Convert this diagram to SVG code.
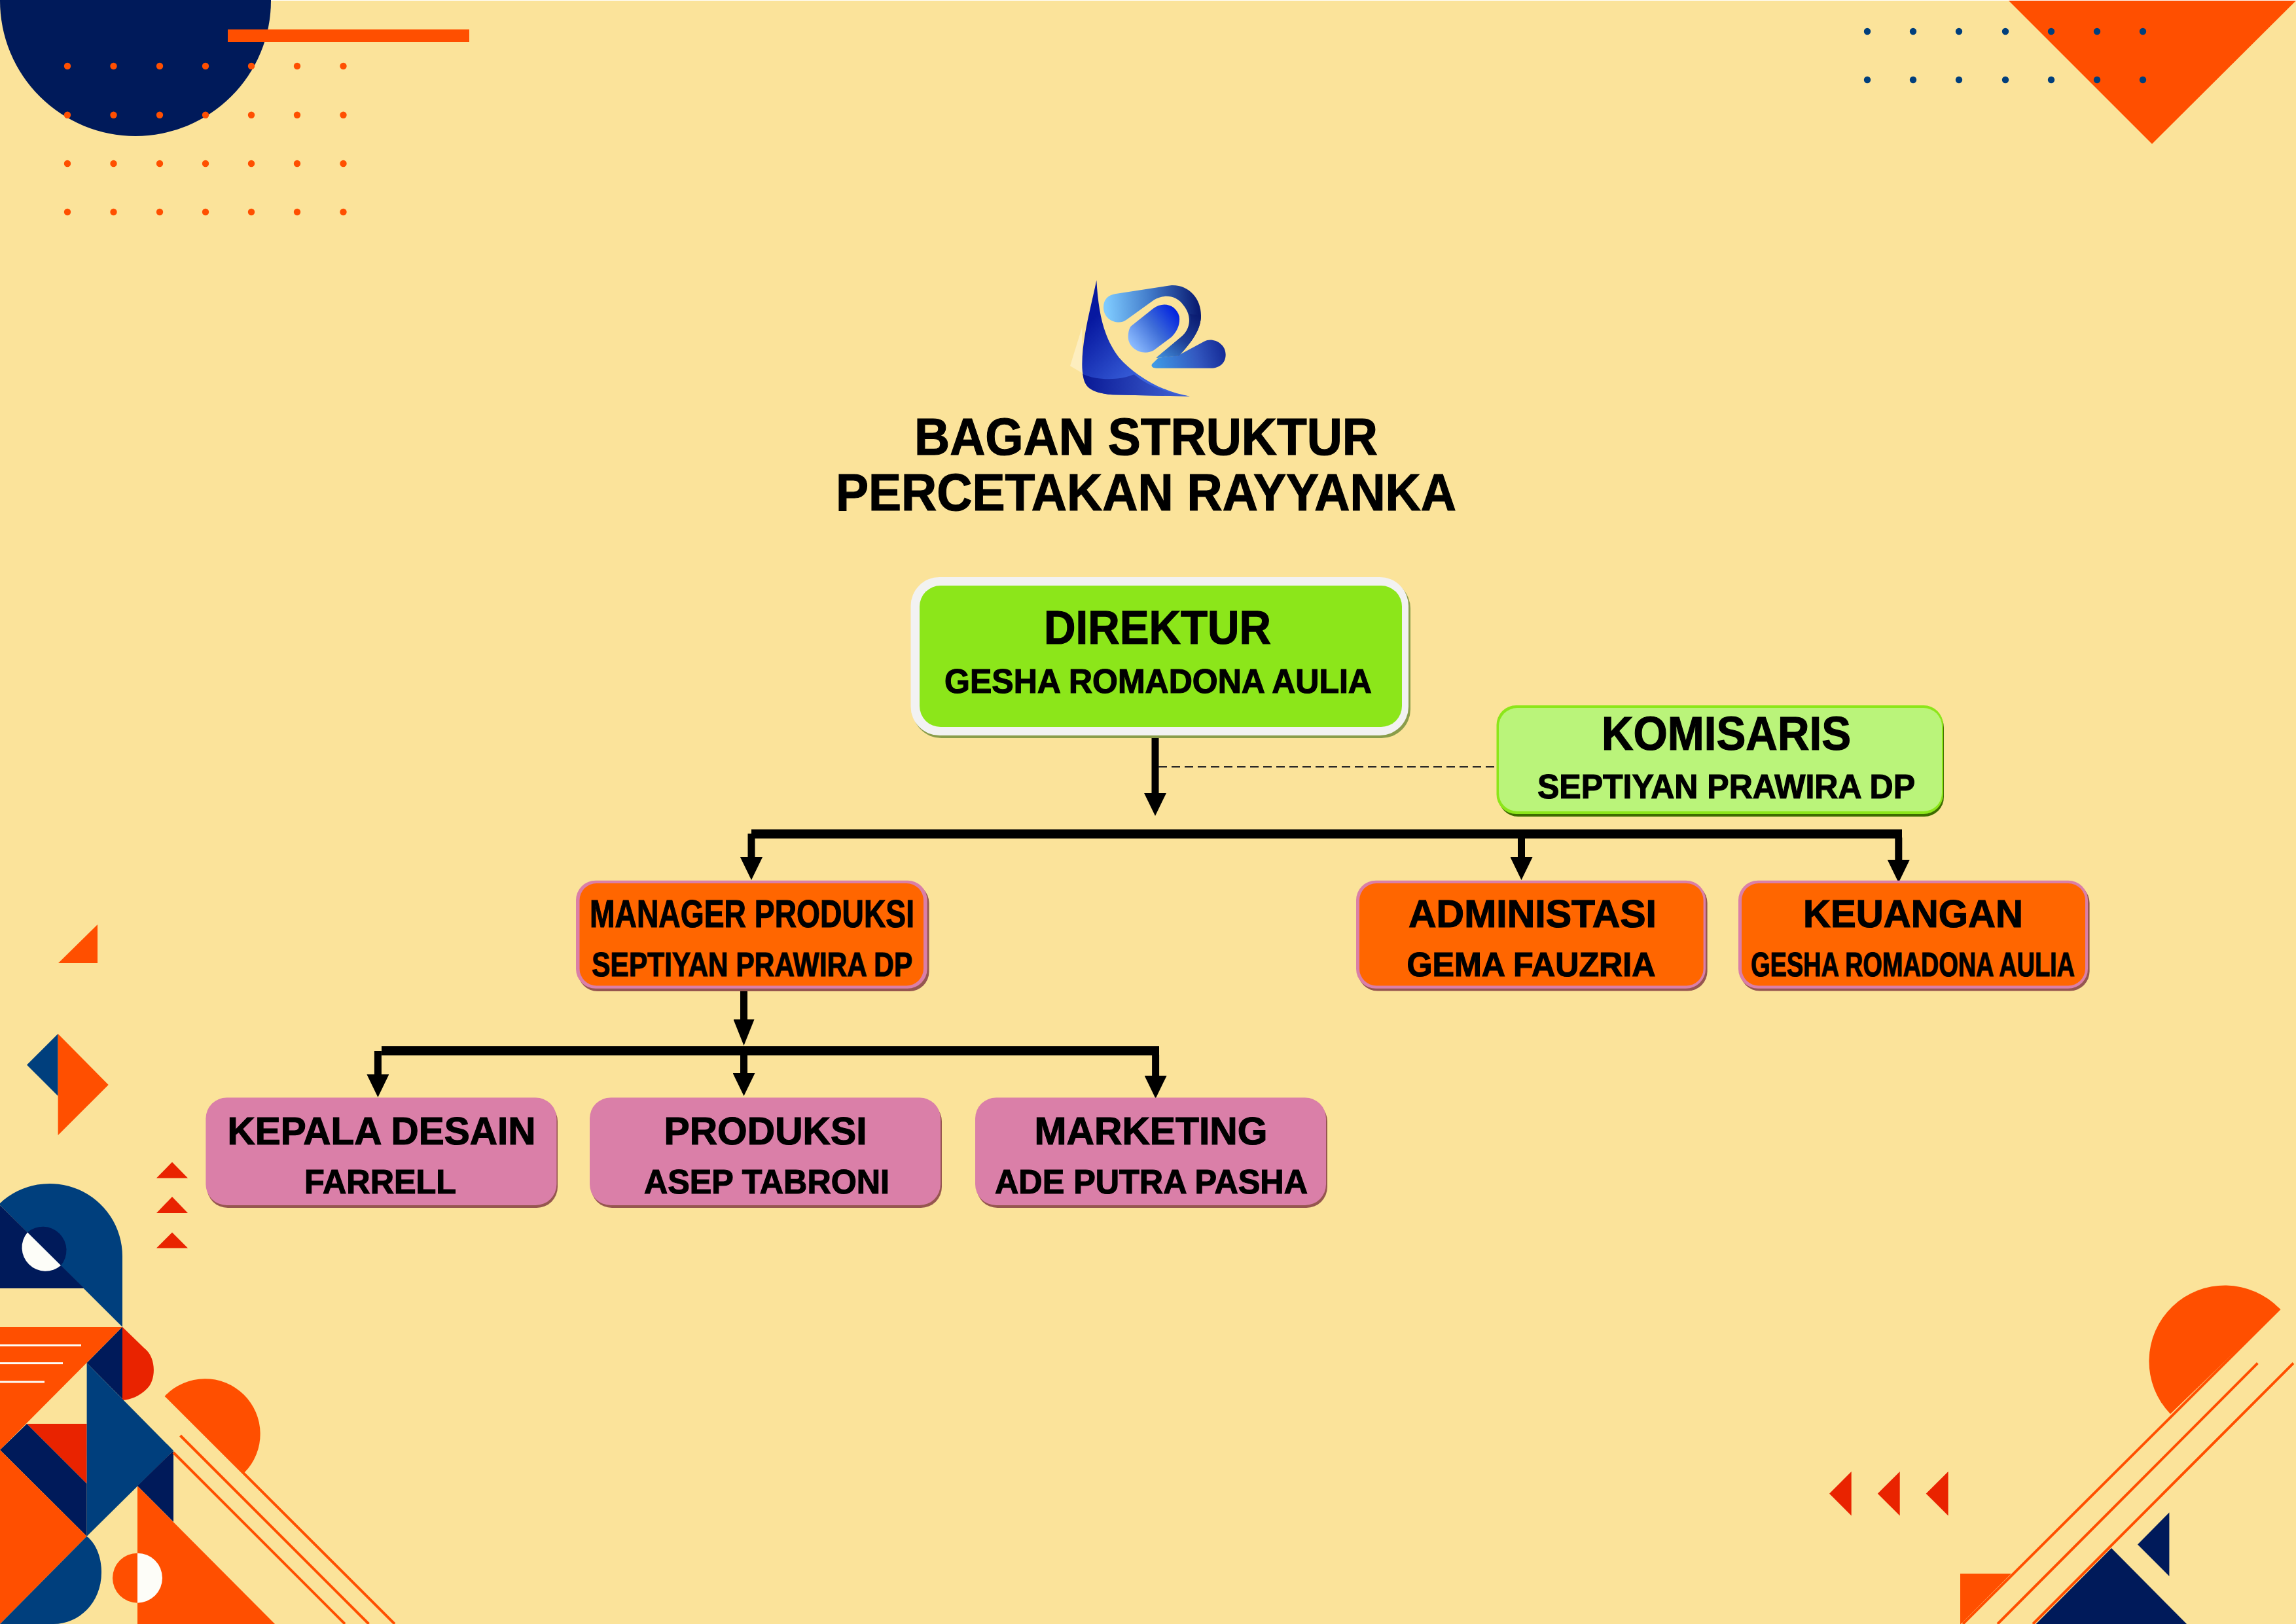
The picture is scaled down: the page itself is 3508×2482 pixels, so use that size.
<svg xmlns="http://www.w3.org/2000/svg" width="3508" height="2482" viewBox="0 0 3508 2482">
<style>
.o{fill:#ff4f00}.n{fill:#001a5a}.b{fill:#003f7d}.r{fill:#e92300}.w{fill:#fdfdf8}
.ol{stroke:#ff4f00;stroke-width:4;fill:none}
.wl{stroke:#fdfdf8;stroke-width:3;fill:none}
text{font-family:"Liberation Sans",Arial,sans-serif;font-weight:700;fill:#000;stroke:#000;stroke-width:1.2}
.t{font-size:79px}.h1{font-size:72px}.h2{font-size:60px}.s{font-size:52px}
.pk{fill:#da7fa8}.or{fill:#ff6600}.sp{fill:#96564f}
.ln{stroke:#000;stroke-width:11;fill:none}
.bar{stroke:#000;stroke-width:14;fill:none}
.dash{stroke:#222;stroke-width:2;stroke-dasharray:13 7;fill:none}
</style>
<defs>
<marker id="head" markerUnits="userSpaceOnUse" viewBox="0 0 35 34" refX="1" refY="17" markerWidth="35" markerHeight="34" orient="auto"><path d="M0,0L35,17L0,34Z" fill="#000"/></marker>
<marker id="headL" markerUnits="userSpaceOnUse" viewBox="0 0 40 32" refX="1" refY="16" markerWidth="40" markerHeight="32" orient="auto"><path d="M0,0L40,16L0,32Z" fill="#000"/></marker>
<circle id="dO" r="5.2" class="o"/>
<circle id="dB" r="5.2" class="b"/>
<linearGradient id="g1" gradientUnits="userSpaceOnUse" x1="170" y1="300" x2="420" y2="540"><stop offset="0" stop-color="#0718a0"/><stop offset="1" stop-color="#3a62dc"/></linearGradient>
<linearGradient id="g1b" gradientUnits="userSpaceOnUse" x1="170" y1="560" x2="650" y2="600"><stop offset="0" stop-color="#0a1a96"/><stop offset="1" stop-color="#4366d6"/></linearGradient>
<linearGradient id="g2" gradientUnits="userSpaceOnUse" x1="270" y1="220" x2="690" y2="190"><stop offset="0" stop-color="#7fcbff"/><stop offset=".5" stop-color="#3f78c8"/><stop offset="1" stop-color="#0a1c72"/></linearGradient>
<linearGradient id="g2b" gradientUnits="userSpaceOnUse" x1="680" y1="240" x2="520" y2="440"><stop offset="0" stop-color="#0a1c72"/><stop offset=".5" stop-color="#1f3f96"/><stop offset="1" stop-color="#3f8ad8"/></linearGradient>
<linearGradient id="g3" gradientUnits="userSpaceOnUse" x1="390" y1="390" x2="600" y2="230"><stop offset="0" stop-color="#8cbcff"/><stop offset=".5" stop-color="#3f6ed8"/><stop offset="1" stop-color="#0020e0"/></linearGradient>
<linearGradient id="g4" gradientUnits="userSpaceOnUse" x1="490" y1="480" x2="810" y2="390"><stop offset="0" stop-color="#3f9ae6"/><stop offset=".6" stop-color="#3358c0"/><stop offset="1" stop-color="#142a96"/></linearGradient>
</defs>
<rect x="0" y="1" width="3508" height="2481" fill="#fbe39a"/>

<g id="deco-top-left">
<circle cx="207" cy="1" r="207" class="n"/>
<rect x="348" y="45" width="369" height="19" class="o"/>
<use href="#dO" x="103" y="101"/><use href="#dO" x="173.5" y="101"/><use href="#dO" x="244" y="101"/><use href="#dO" x="314" y="101"/><use href="#dO" x="384" y="101"/><use href="#dO" x="454" y="101"/><use href="#dO" x="524.5" y="101"/>
<use href="#dO" x="103" y="175.7"/><use href="#dO" x="173.5" y="175.7"/><use href="#dO" x="244" y="175.7"/><use href="#dO" x="314" y="175.7"/><use href="#dO" x="384" y="175.7"/><use href="#dO" x="454" y="175.7"/><use href="#dO" x="524.5" y="175.7"/>
<use href="#dO" x="103" y="250"/><use href="#dO" x="173.5" y="250"/><use href="#dO" x="244" y="250"/><use href="#dO" x="314" y="250"/><use href="#dO" x="384" y="250"/><use href="#dO" x="454" y="250"/><use href="#dO" x="524.5" y="250"/>
<use href="#dO" x="103" y="324"/><use href="#dO" x="173.5" y="324"/><use href="#dO" x="244" y="324"/><use href="#dO" x="314" y="324"/><use href="#dO" x="384" y="324"/><use href="#dO" x="454" y="324"/><use href="#dO" x="524.5" y="324"/>
</g>

<g id="deco-top-right">
<polygon points="3069,1 3508,1 3288,220" class="o"/>
<use href="#dB" x="2853" y="48"/><use href="#dB" x="2923" y="48"/><use href="#dB" x="2993" y="48"/><use href="#dB" x="3064" y="48"/><use href="#dB" x="3134" y="48"/><use href="#dB" x="3204" y="48"/><use href="#dB" x="3274" y="48"/>
<use href="#dB" x="2853" y="122"/><use href="#dB" x="2923" y="122"/><use href="#dB" x="2993" y="122"/><use href="#dB" x="3064" y="122"/><use href="#dB" x="3134" y="122"/><use href="#dB" x="3204" y="122"/><use href="#dB" x="3274" y="122"/>
</g>

<g id="deco-bottom-left">
<polygon points="89,1472 149,1413 149,1472" class="o"/>
<polygon points="41,1627.5 88.6,1580 88.6,1675" class="b"/>
<polygon points="88.6,1580 165.7,1658 88.6,1735" class="o"/>
<polygon points="239,1800.5 263,1776 287,1800.5" class="r"/>
<polygon points="239,1854 263,1829 287,1854" class="r"/>
<polygon points="239,1907.4 263,1883.5 287,1907.4" class="r"/>
<path d="M0,1842V1839A111,111 0 0 1 187,1920V2028Z" class="b"/>
<polygon points="0,1842 128.6,1969 0,1969" class="n"/>
<path d="M42,1883.5A36,36 0 0 1 93,1934Z" class="n"/>
<path d="M42,1883.5A36,36 0 0 0 93,1934Z" class="w"/>
<polygon points="0,2028 187,2028 0,2216" class="o"/>
<path d="M0,2056H124M0,2083.5H96M0,2112H68" class="wl"/>
<polygon points="187,2028 132.6,2083 187,2138" class="n"/>
<path d="M187,2028L220,2060C240,2075 238,2110 225,2122C213,2134 200,2139 187,2140Z" class="r"/>
<polygon points="41,2176 132.6,2176 132.6,2267.5" class="r"/>
<polygon points="0,2216 41,2176 132.6,2267.5 132.6,2348" class="n"/>
<polygon points="132.6,2083 265,2217 132.6,2348" class="b"/>
<polygon points="0,2216 132.6,2348 0,2482" class="o"/>
<path d="M132.6,2348C148,2360 155,2382 155,2403C155,2450 120,2482 82,2482H0Z" class="b"/>
<polygon points="210,2271 265,2217 265,2326" class="n"/>
<polygon points="210,2271 420,2482 210,2482" class="o"/>
<path d="M210,2373.7A38,38 0 0 0 210,2449.7Z" class="o"/>
<path d="M210,2373.7A38,38 0 0 1 210,2449.7Z" class="w"/>
<path d="M253,2132.5A84,84 0 1 1 373.5,2250.6Z" class="o"/>
<path d="M253,2132.5L603,2482M275.5,2194L563.5,2482M265,2220L527,2482" class="ol"/>
</g>

<g id="deco-bottom-right">
<polygon points="2795,2282.7 2828.7,2249 2828.7,2316.4" class="r"/>
<polygon points="2868.8,2282.7 2902.7,2249 2902.7,2316.4" class="r"/>
<polygon points="2942.7,2282.7 2976.6,2249 2976.6,2316.4" class="r"/>
<path d="M3483,2000A115,115 0 1 0 3316,2161Z" class="o"/>
<polygon points="2995,2405 3073,2405 2996,2482 2995,2482" class="o"/>
<path d="M3483,2000L2999,2482M3449.4,2083.4L3052,2482M3504,2083.4L3106,2482" class="ol"/>
<polygon points="3266,2360.6 3314.4,2311.4 3314.4,2409" class="n"/>
<polygon points="3226,2366 3341,2482 3110.7,2482" class="n"/>
</g>

<g id="logo" transform="translate(1600 400) scale(.33333)">
<path d="M160,300L105,478L160,510Z" fill="#fdeebf"/>
<path d="M226,85C200,210 160,350 160,470C160,560 190,600 300,610L655,617C520,595 400,520 330,440C260,350 235,240 226,85Z" fill="url(#g1)"/>
<path d="M163,515C230,545 330,545 398,517C470,575 560,605 655,617L300,610C190,600 170,570 163,515Z" fill="url(#g1b)"/>
<path d="M600,430L720,365C760,345 818,375 818,425C818,465 790,488 750,488H500C480,488 472,475 485,465L510,440Z" fill="url(#g4)"/>
<path d="M310,148L570,108C650,105 705,170 705,245C705,310 665,365 605,430L500,440L620,340C655,305 665,250 625,200C590,150 530,150 490,175L365,265C330,295 258,270 258,210C258,170 280,155 310,148Z" fill="url(#g2)"/>
<path d="M705,245C705,310 665,365 605,430L500,440L620,340C655,305 668,265 652,240Z" fill="url(#g2b)"/>
<path d="M385,295L485,215C530,180 590,195 605,250C612,290 590,325 570,345L490,405C440,435 371,400 371,345C371,325 375,305 385,295Z" fill="url(#g3)"/>
</g>

<g id="title">
<text class="t" x="1397" y="695" textLength="708" lengthAdjust="spacingAndGlyphs">BAGAN STRUKTUR</text>
<text class="t" x="1277" y="780" textLength="948" lengthAdjust="spacingAndGlyphs">PERCETAKAN RAYYANKA</text>
</g>

<g id="connectors">
<path class="ln" d="M1765,1124V1213" marker-end="url(#head)"/>
<path class="dash" d="M1770,1172H2286"/>
<path class="bar" d="M1148,1274.5H2906"/>
<path class="ln" d="M1148,1274V1311" marker-end="url(#head)"/>
<path class="ln" d="M2324.5,1280V1311" marker-end="url(#head)"/>
<path class="ln" d="M2900.8,1280V1315" marker-end="url(#head)"/>
<path class="ln" d="M1136.5,1514V1559" marker-end="url(#headL)"/>
<path class="bar" d="M583,1606H1771"/>
<path class="ln" d="M577.4,1606V1643" marker-end="url(#head)"/>
<path class="ln" d="M1136.5,1612V1641" marker-end="url(#head)"/>
<path class="ln" d="M1765.6,1612V1645" marker-end="url(#head)"/>
</g>

<g id="direktur">
<rect x="1394" y="886" width="761" height="242" rx="44" fill="#8a9d4a"/>
<rect x="1391.5" y="882" width="760.5" height="242" rx="44" fill="#f2f2f2"/>
<rect x="1405" y="895" width="737" height="216" rx="32" fill="#8ce61a"/>
<text class="h1" x="1595" y="984" textLength="347" lengthAdjust="spacingAndGlyphs">DIREKTUR</text>
<text class="s" x="1443" y="1059" textLength="653" lengthAdjust="spacingAndGlyphs">GESHA ROMADONA AULIA</text>
</g>

<g id="komisaris">
<rect x="2289.5" y="1082" width="680.5" height="166" rx="30" fill="#3d6b00"/>
<rect x="2286.5" y="1078" width="682.5" height="166" rx="30" fill="#8ce61a"/>
<rect x="2290" y="1082" width="677" height="158" rx="28" fill="#baf47a"/>
<text class="h1" x="2447" y="1146" textLength="381" lengthAdjust="spacingAndGlyphs">KOMISARIS</text>
<text class="s" x="2349" y="1220" textLength="577" lengthAdjust="spacingAndGlyphs">SEPTIYAN PRAWIRA DP</text>
</g>

<g id="manager-produksi">
<rect x="883" y="1350" width="536.5" height="165" rx="30" class="sp"/>
<rect x="880" y="1345.7" width="536.6" height="165" rx="30" class="pk"/>
<rect x="885.5" y="1350" width="525.5" height="156.4" rx="26" class="or"/>
<text class="h2" x="901" y="1417" textLength="496" lengthAdjust="spacingAndGlyphs">MANAGER PRODUKSI</text>
<text class="s" x="904" y="1492" textLength="490" lengthAdjust="spacingAndGlyphs">SEPTIYAN PRAWIRA DP</text>
</g>
<g id="administasi">
<rect x="2074.6" y="1350" width="534" height="164.5" rx="30" class="sp"/>
<rect x="2072" y="1345.7" width="534" height="165" rx="30" class="pk"/>
<rect x="2077" y="1350" width="525.6" height="156.4" rx="26" class="or"/>
<text class="h2" x="2152" y="1417" textLength="379" lengthAdjust="spacingAndGlyphs">ADMINISTASI</text>
<text class="s" x="2149.5" y="1492" textLength="380" lengthAdjust="spacingAndGlyphs">GEMA FAUZRIA</text>
</g>
<g id="keuangan">
<rect x="2658.6" y="1350" width="534" height="164.5" rx="30" class="sp"/>
<rect x="2656" y="1345.7" width="534" height="165" rx="30" class="pk"/>
<rect x="2661" y="1350" width="525" height="156.4" rx="26" class="or"/>
<text class="h2" x="2755" y="1417" textLength="336" lengthAdjust="spacingAndGlyphs">KEUANGAN</text>
<text class="s" x="2675" y="1492" textLength="495" lengthAdjust="spacingAndGlyphs">GESHA ROMADONA AULIA</text>
</g>

<g id="kepala-desain">
<rect x="316" y="1682" width="536" height="164" rx="32" class="sp"/>
<rect x="314.4" y="1677.5" width="536" height="164.5" rx="32" class="pk"/>
<text class="h2" x="347.5" y="1748.6" textLength="471" lengthAdjust="spacingAndGlyphs">KEPALA DESAIN</text>
<text class="s" x="465" y="1823.6" textLength="232" lengthAdjust="spacingAndGlyphs">FARRELL</text>
</g>
<g id="produksi">
<rect x="903" y="1682" width="536" height="164" rx="32" class="sp"/>
<rect x="901" y="1677.5" width="536" height="164.5" rx="32" class="pk"/>
<text class="h2" x="1014.5" y="1748.6" textLength="310" lengthAdjust="spacingAndGlyphs">PRODUKSI</text>
<text class="s" x="984" y="1823.6" textLength="375" lengthAdjust="spacingAndGlyphs">ASEP TABRONI</text>
</g>
<g id="marketing">
<rect x="1492" y="1682" width="536" height="164" rx="32" class="sp"/>
<rect x="1490" y="1677.5" width="536" height="164.5" rx="32" class="pk"/>
<text class="h2" x="1580.5" y="1748.6" textLength="356" lengthAdjust="spacingAndGlyphs">MARKETING</text>
<text class="s" x="1520" y="1823.6" textLength="478" lengthAdjust="spacingAndGlyphs">ADE PUTRA PASHA</text>
</g>
</svg>
